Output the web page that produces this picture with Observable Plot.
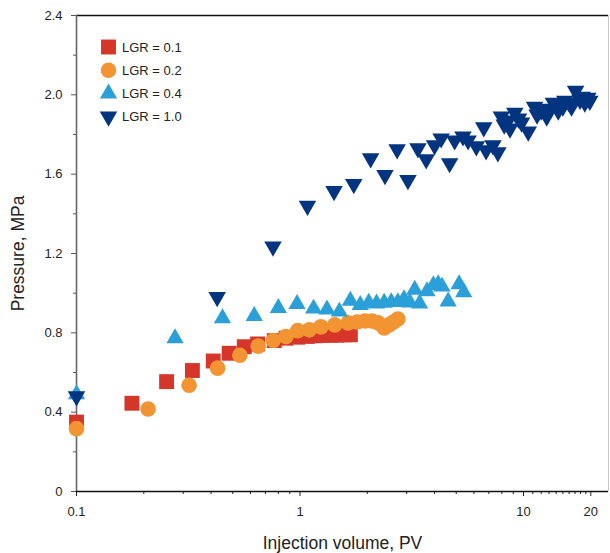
<!DOCTYPE html>
<html>
<head>
<meta charset="utf-8">
<script src="https://cdn.jsdelivr.net/npm/d3@7"></script>
<script src="https://cdn.jsdelivr.net/npm/@observablehq/plot@0.6"></script>
<style>
  html, body { margin: 0; padding: 0; background: #fff; }
  #wrap { position: relative; width: 610px; height: 553px; font-family: "Liberation Sans", Arial, sans-serif; }
  #legend { position: absolute; left: 0; top: 0; }
</style>
</head>
<body>
<div id="wrap"></div>
<script>
// ---- data (Injection volume PV, Pressure MPa) ----
const lgr01X = [0.1, 0.177, 0.253, 0.33, 0.409, 0.482, 0.563, 0.646, 0.767, 0.866, 0.976, 1.08, 1.17, 1.26, 1.36, 1.46, 1.57, 1.68];
const lgr01Y = [0.35, 0.445, 0.554, 0.61, 0.658, 0.697, 0.73, 0.744, 0.761, 0.773, 0.778, 0.782, 0.785, 0.787, 0.788, 0.788, 0.79, 0.79];

const lgr02X = [0.1, 0.209, 0.319, 0.428, 0.538, 0.65, 0.759, 0.866, 0.976, 1.10, 1.24, 1.43, 1.64, 1.8, 1.95, 2.1, 2.24, 2.38, 2.5, 2.62, 2.74];
const lgr02Y = [0.317, 0.416, 0.536, 0.622, 0.687, 0.733, 0.761, 0.781, 0.811, 0.815, 0.83, 0.84, 0.85, 0.855, 0.86, 0.86, 0.85, 0.825, 0.84, 0.855, 0.87];

const lgr04X = [0.1, 0.276, 0.45, 0.624, 0.80, 0.97, 1.15, 1.32, 1.50, 1.68, 1.86, 2.03, 2.2, 2.38, 2.56, 2.74, 2.92, 3.1, 3.26, 3.43, 3.7, 3.95, 4.15, 4.32, 4.6, 5.15, 5.4];
const lgr04Y = [0.49, 0.773, 0.874, 0.885, 0.925, 0.945, 0.922, 0.918, 0.907, 0.962, 0.94, 0.952, 0.948, 0.952, 0.955, 0.955, 0.97, 0.953, 1.017, 0.948, 1.01, 1.04, 1.045, 1.033, 0.958, 1.045, 1.005];

const lgr10X = [0.1, 0.426, 0.757, 1.08, 1.42, 1.74, 2.07, 2.40, 2.72, 3.04, 3.37, 3.67, 4.0, 4.28, 4.67, 4.92, 5.36, 5.65, 6.15, 6.64, 6.8, 7.3, 7.68, 7.96, 8.2, 8.54, 8.7, 9.14, 9.5, 9.8, 10.5, 11.2, 11.5, 12.0, 12.7, 13.0, 13.6, 14.3, 15.0, 15.3, 16.0, 16.4, 17.1, 17.9, 18.3, 18.8, 19.4, 19.8];
const lgr10Y = [0.48, 0.98, 1.235, 1.44, 1.515, 1.55, 1.68, 1.595, 1.725, 1.57, 1.73, 1.675, 1.745, 1.78, 1.655, 1.77, 1.79, 1.77, 1.74, 1.836, 1.72, 1.745, 1.71, 1.89, 1.85, 1.87, 1.83, 1.91, 1.88, 1.86, 1.815, 1.94, 1.9, 1.92, 1.89, 1.93, 1.96, 1.92, 1.94, 1.97, 1.96, 1.94, 2.02, 1.975, 1.99, 1.96, 1.985, 1.97];

const seriesNames = ["LGR = 0.1", "LGR = 0.2", "LGR = 0.4", "LGR = 1.0"];
const seriesColors = ["#d6352a", "#f39433", "#2b9fd8", "#02347f"];

// ---- axes ----
const xDomain = [0.1, 24];
const yDomain = [0, 2.4];
const xMajor = [0.1, 1, 10, 20];
const xMinor = [0.2, 0.3, 0.4, 0.5, 0.6, 0.7, 0.8, 0.9, 2, 3, 4, 5, 6, 7, 8, 9, 11, 12, 13, 14, 15, 16, 17, 18, 19];
const yMajor = [0, 0.4, 0.8, 1.2, 1.6, 2.0, 2.4];
const yMinor = [0.2, 0.6, 1.0, 1.4, 1.8, 2.2];
const xTitle = "Injection volume, PV";
const yTitle = "Pressure, MPa";

const toRows = (xs, ys) => xs.map((x, i) => ({x, y: ys[i]}));

const triDown = {
  draw(ctx, size) {
    const s3 = Math.sqrt(3);
    const y = Math.sqrt(size / (3 * s3));
    ctx.moveTo(0, 2 * y);
    ctx.lineTo(s3 * y, -y);
    ctx.lineTo(-s3 * y, -y);
    ctx.closePath();
  }
};
const symbols = ["square", "circle", "triangle", triDown];
const radii = [8.4, 7.8, 6.4, 6.5];
const allData = [toRows(lgr01X, lgr01Y), toRows(lgr02X, lgr02Y), toRows(lgr04X, lgr04Y), toRows(lgr10X, lgr10Y)];

const chart = Plot.plot({
  width: 610,
  height: 553,
  marginLeft: 76,
  marginRight: 2,
  marginTop: 15,
  marginBottom: 62,
  style: {fontFamily: "'Liberation Sans', Arial, sans-serif", fontSize: "12.5px", color: "#222", background: "#fff"},
  x: {type: "log", domain: xDomain},
  y: {domain: yDomain},
  marks: [
    Plot.ruleY([yDomain[1]], {stroke: "#111", strokeWidth: 1.3}),
    Plot.ruleX([xDomain[1]], {stroke: "#c8c8c8", strokeWidth: 1}),
    Plot.axisX({ticks: xMinor, tickSize: 3, tickFormat: () => "", label: null, stroke: "#222"}),
    Plot.axisX({ticks: xMajor, tickSize: 5, tickPadding: 10, tickFormat: d => String(d), label: null, stroke: "#222", fontSize: 13}),
    Plot.axisY({ticks: yMinor, tickSize: 3, tickFormat: () => "", label: null, stroke: "#555"}),
    Plot.axisY({ticks: yMajor, tickSize: 5, tickPadding: 9, tickFormat: d => d === 0 ? "0" : d.toFixed(1), label: null, stroke: "#555", fontSize: 13}),
    Plot.ruleX([xDomain[0]], {stroke: "#666", strokeWidth: 1.6}),
    Plot.ruleY([yDomain[0]], {stroke: "#111", strokeWidth: 1.3}),
    ...allData.map((rows, i) => Plot.dot(rows, {x: "x", y: "y", symbol: symbols[i], r: radii[i], fill: seriesColors[i], stroke: "none"})),
    Plot.text([xTitle], {frameAnchor: "bottom", dy: 52, fontSize: 17.5, fill: "#222", lineAnchor: "middle", textAnchor: "middle"}),
    Plot.text([yTitle], {frameAnchor: "left", dx: -58, rotate: -90, fontSize: 17.5, fill: "#222", lineAnchor: "middle", textAnchor: "middle"})
  ]
});

const wrap = document.getElementById("wrap");
wrap.appendChild(chart);

// ---- legend overlay ----
const leg = d3.select(wrap).append("svg").attr("id", "legend").attr("width", 200).attr("height", 140);
const rowY0 = 47, rowStep = 23.2, symX = 108.5, txtX = 122;
seriesNames.forEach((name, i) => {
  const y = rowY0 + i * rowStep;
  const sym = symbols[i] === triDown ? triDown :
    ({square: d3.symbolSquare, circle: d3.symbolCircle, triangle: d3.symbolTriangle})[symbols[i]];
  leg.append("path")
    .attr("d", d3.symbol(sym, radii[i] * radii[i] * Math.PI)())
    .attr("transform", `translate(${symX},${y})`)
    .attr("fill", seriesColors[i]);
  leg.append("text")
    .attr("x", txtX).attr("y", y)
    .attr("dy", "0.35em")
    .attr("font-family", "'Liberation Sans', Arial, sans-serif")
    .attr("font-size", 13)
    .attr("fill", "#222")
    .text(name);
});
</script>
</body>
</html>
